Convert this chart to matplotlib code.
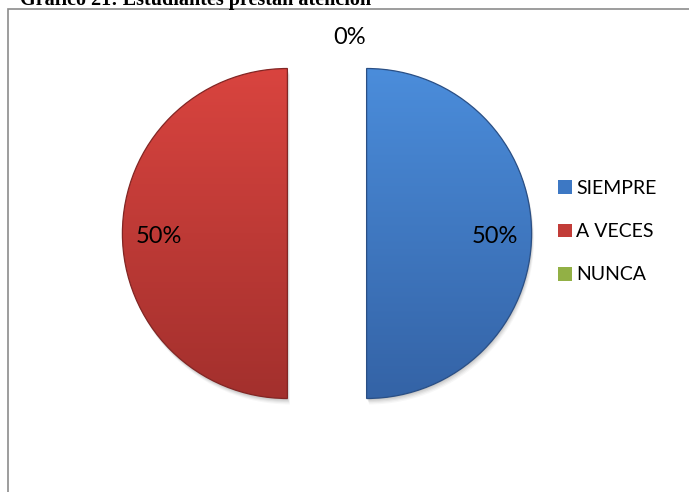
import numpy as np
import matplotlib
matplotlib.use("Agg")
import matplotlib.pyplot as plt
from matplotlib.patches import Wedge, Rectangle, Patch
from matplotlib.colors import to_rgb

# Survey answers
categories = ["SIEMPRE", "A VECES", "NUNCA"]
percentages = [50, 50, 0]
title_text = "Gráfico 21: Estudiantes prestan atención"

top_colors = ["#4b8ddb", "#d9443f", "#a8c55a"]
bottom_colors = ["#3463a6", "#a3302d", "#7a9a35"]
legend_colors = ["#3d78c4", "#c23c38", "#92b045"]

W, H = 689, 492
fig = plt.figure(figsize=(W / 100, H / 100), dpi=100)
ax = fig.add_axes([0, 0, 1, 1])
ax.set_xlim(0, W)
ax.set_ylim(0, H)
ax.axis("off")

# chart frame (runs off the right and bottom edges)
ax.add_patch(Rectangle((7.5, -20), W + 20, H - 8.5 + 20, fill=False,
                       edgecolor="#8c8c8c", lw=1.2, zorder=1))

fig.text(20 / W, 1 - 5 / H, title_text, family="Liberation Serif",
         weight="bold", fontsize=14.5, ha="left", va="baseline")

cx, cy, r = 327, H - 233.5, 165
explode = 0.24
start = 90.0
total = float(sum(percentages))

angle = start
for val, c_top, c_bot, lab in zip(percentages, top_colors, bottom_colors, percentages):
    span = 360.0 * val / total
    t1, t2 = angle - span, angle
    mid = np.deg2rad((t1 + t2) / 2)
    ox, oy = cx + explode * r * np.cos(mid), cy + explode * r * np.sin(mid)
    if val > 0:
        # soft drop shadow
        for k, a in zip(range(1, 6), [0.07, 0.06, 0.05, 0.04, 0.03]):
            ax.add_patch(Wedge((ox + 0.5 * k, oy - 1.2 * k), r, t1, t2,
                               facecolor="black", edgecolor="none",
                               alpha=a, zorder=2))
        w = Wedge((ox, oy), r, t1, t2, facecolor="none",
                  edgecolor="none", zorder=3)
        ax.add_patch(w)
        # vertical gradient fill clipped to the wedge
        ct, cb = np.array(to_rgb(c_top)), np.array(to_rgb(c_bot))
        t = np.linspace(0, 1, 256)[:, None]
        grad = (ct * (1 - t) + cb * t)[:, None, :]
        grad = np.repeat(grad, 2, axis=1)
        im = ax.imshow(grad, extent=(ox - r, ox + r, oy - r, oy + r),
                       origin="upper", aspect="auto", zorder=3,
                       interpolation="bilinear")
        im.set_clip_path(w)
        ax.add_patch(Wedge((ox, oy), r, t1, t2, facecolor="none",
                           edgecolor=tuple(cb * 0.8), lw=0.9, zorder=4))
        ax.set_xlim(0, W)
        ax.set_ylim(0, H)
        d = explode * r + 0.78 * r
        ax.text(cx + d * np.cos(mid), cy + d * np.sin(mid) - 3, f"{lab}%",
                ha="center", va="center", family="Lato", fontsize=17,
                color="black", zorder=5)
    else:
        d = 1.19 * r
        ax.text(cx + d * np.cos(mid) + 23, cy + d * np.sin(mid), f"{lab}%",
                ha="center", va="center", family="Lato", fontsize=17,
                color="black", zorder=5)
    angle = t1

handles = [Patch(facecolor=c, edgecolor="none") for c in legend_colors]
leg = ax.legend(handles, categories, loc="upper left",
                bbox_to_anchor=(558 / W, 1 - 180 / H), frameon=False,
                prop={"family": "Lato", "size": 14},
                handlelength=0.7, handleheight=0.7, handletextpad=0.25,
                labelspacing=1.35, borderaxespad=0, borderpad=0)

fig.savefig("out.png", dpi=100)
